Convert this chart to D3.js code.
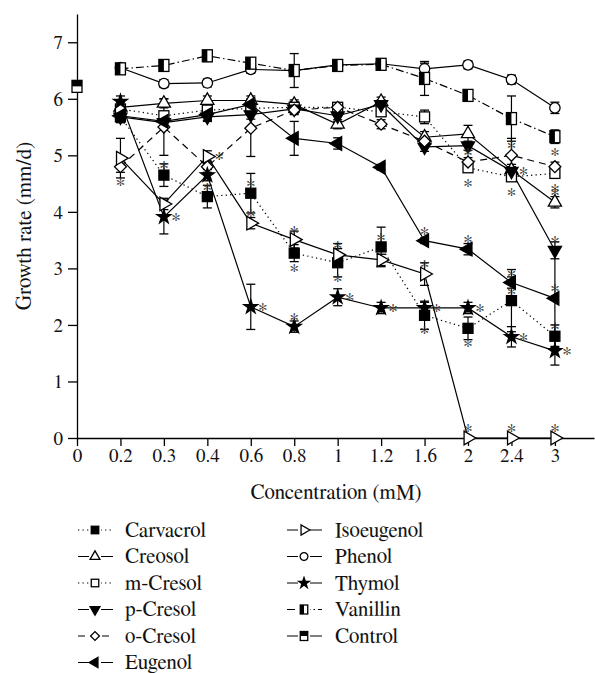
<!DOCTYPE html>
<html><head><meta charset="utf-8">
<script src="https://cdn.jsdelivr.net/npm/d3@7"></script>
<style>
body{margin:0;background:#fff}
svg{display:block}
</style>
</head><body><svg id="c" width="595" height="673" font-family="FreeSerif"></svg>
<script>
// ---------- data ----------
const categories = ["0","0.2","0.3","0.4","0.6","0.8","1","1.2","1.6","2","2.4","3"];
const yTicks = [0,1,2,3,4,5,6,7];
// values at 0.2 ... 3 mM (category index 1..11)
const carvacrol  = [5.68,4.65,4.27,4.33,3.27,3.10,3.38,2.17,1.94,2.43,1.80];
const creosol    = [5.85,5.92,5.97,5.97,5.90,5.55,5.95,5.32,5.38,4.74,4.17];
const mCresol    = [5.82,5.70,5.80,5.83,5.85,5.85,5.77,5.68,4.78,4.62,4.68];
const pCresol    = [5.68,5.58,5.68,5.72,5.82,5.70,5.90,5.15,5.17,4.72,3.32];
const oCresol    = [4.80,5.50,4.80,5.48,5.80,5.85,5.55,5.25,4.88,5.00,4.80];
const eugenol    = [5.70,5.60,5.72,5.90,5.30,5.21,4.79,3.49,3.34,2.75,2.47];
const isoeugenol = [4.95,4.14,4.98,3.80,3.51,3.24,3.15,2.90,0,0,0];
const phenol     = [6.55,6.27,6.28,6.52,6.50,6.60,6.62,6.53,6.60,6.34,5.84];
const thymol     = [5.95,3.91,4.65,2.32,1.97,2.49,2.30,2.30,2.30,1.79,1.54];
const vanillin   = [6.53,6.59,6.76,6.63,6.50,6.59,6.61,6.36,6.06,5.65,5.33];
const control    = [6.22];   // at 0 mM
// standard errors
const carvacrolErr  = [0.10,0.20,0.20,0.35,0.15,0.25,0.35,0.25,0.20,0.55,0.20];
const creosolErr    = [0.08,0.08,0.08,0.08,0.08,0.08,0.08,0.10,0.15,0.10,0.10];
const mCresolErr    = [0.06,0.06,0.06,0.06,0.10,0.06,0.06,0.12,0.06,0.06,0.06];
const pCresolErr    = [0.10,0.10,0.08,0.08,0.08,0.10,0.08,0.08,0.08,0.08,0.15];
const oCresolErr    = [0.10,0.50,0.10,0.50,0.08,0.08,0.08,0.08,0.08,0.30,0.08];
const eugenolErr    = [0.10,0.10,0.10,0.10,0.30,0.10,0.05,0.05,0.10,0.10,0.85];
const isoeugenolErr = [0.35,0.10,0.10,0.10,0.15,0.20,0.10,0.20,0,0,0];
const phenolErr     = [0.07,0.07,0.07,0.07,0.07,0.07,0.07,0.10,0.07,0.08,0.10];
const thymolErr     = [0.10,0.30,0.10,0.40,0.10,0.15,0.10,0.10,0.10,0.18,0.25];
const vanillinErr   = [0.05,0.10,0.10,0.05,0.30,0.05,0.05,0.30,0.05,0.40,0.12];
const controlErr    = [0.08];
// significance marks (a = above, b = below, r = right)
const carvacrolSig  = ["","a","a","a","b","b","a","b","b","a","a"];
const creosolSig    = ["","","","","","","","","","","a"];
const mCresolSig    = ["","","","","","","","","b","b","b"];
const pCresolSig    = ["","","","","","","","","","r","a"];
const oCresolSig    = ["b","","","","","","","","a","a",""];
const eugenolSig    = ["","","","","","","","a","a","a","a"];
const isoeugenolSig = ["","","r","a","a","a","","a","a","a","a"];
const phenolSig     = ["","","","","","","","","","",""];
const thymolSig     = ["","r","","r","a","r","r","r","r","r","r"];
const vanillinSig   = ["","","","","","","","","","","b"];
const controlSig    = [""];

const seriesNames = ["Carvacrol","Creosol","m-Cresol","p-Cresol","o-Cresol","Eugenol","Isoeugenol","Phenol","Thymol","Vanillin","Control"];

// ---------- styling ----------
const style = {
  "Carvacrol": {shape:"square", fill:"#000", dash:"1.3,3.2"},
  "Creosol":   {shape:"triUp", fill:"#fff", dash:null},
  "m-Cresol":  {shape:"square", fill:"#fff", dash:"1.3,3.2"},
  "p-Cresol":  {shape:"triDown", fill:"#000", dash:null},
  "o-Cresol":  {shape:"diamond", fill:"#fff", dash:"7,5"},
  "Eugenol":   {shape:"triLeft", fill:"#000", dash:null},
  "Isoeugenol":{shape:"triRight", fill:"#fff", dash:null},
  "Phenol":    {shape:"circle", fill:"#fff", dash:null},
  "Thymol":    {shape:"star", fill:"#000", dash:null},
  "Vanillin":  {shape:"halfL", fill:"#fff", dash:"8,3,1.5,3"},
  "Control":   {shape:"halfT", fill:"#fff", dash:null}
};
const seriesData = {
  "Carvacrol":[carvacrol,carvacrolErr,carvacrolSig,1],
  "Creosol":[creosol,creosolErr,creosolSig,1],
  "m-Cresol":[mCresol,mCresolErr,mCresolSig,1],
  "p-Cresol":[pCresol,pCresolErr,pCresolSig,1],
  "o-Cresol":[oCresol,oCresolErr,oCresolSig,1],
  "Eugenol":[eugenol,eugenolErr,eugenolSig,1],
  "Isoeugenol":[isoeugenol,isoeugenolErr,isoeugenolSig,1],
  "Phenol":[phenol,phenolErr,phenolSig,1],
  "Thymol":[thymol,thymolErr,thymolSig,1],
  "Vanillin":[vanillin,vanillinErr,vanillinSig,1],
  "Control":[control,controlErr,controlSig,0]
};

const FONT = "FreeSerif";
const svg = d3.select("#c");
const x = d3.scaleLinear().domain([0, 11.9]).range([77, 594]);
const y = d3.scaleLinear().domain([0, 7.5]).range([438, 14]);
function setFont(sel, size){ return sel.attr("font-family",FONT).style("font-family",FONT).attr("font-size",size).style("font-size",size+"px"); }

// ---------- axes ----------
const gy = svg.append("g").attr("transform","translate(77,0)");
gy.call(d3.axisLeft(y).tickValues(d3.range(0.5,8,1)).tickSize(5).tickSizeOuter(0).tickFormat(""));
gy.call(d3.axisLeft(y).tickValues(yTicks).tickSize(9).tickSizeOuter(0).tickFormat(d3.format("d")));
const gx = svg.append("g").attr("transform","translate(0,438)");
gx.call(d3.axisBottom(x).tickValues(d3.range(0.5,12,1)).tickSize(4).tickSizeOuter(0).tickFormat(""));
gx.call(d3.axisBottom(x).tickValues(d3.range(0,12)).tickSize(8).tickSizeOuter(0).tickFormat(i=>categories[i]));
gy.attr("font-family",FONT); gx.attr("font-family",FONT);
svg.selectAll(".domain,.tick line").attr("stroke","#000").attr("stroke-width",1.3);
setFont(svg.selectAll(".tick text"), 19).attr("fill","#111");
gy.selectAll(".tick text").attr("x",-14).attr("dy","0.34em");
gx.selectAll(".tick text").attr("y",11);

setFont(svg.append("text"),21).attr("transform","translate(31,226) rotate(-90)").attr("text-anchor","middle")
  .attr("fill","#111").text("Growth rate (mm/d)");
setFont(svg.append("text"),21).attr("x",336).attr("y",499).attr("text-anchor","middle")
  .attr("fill","#111").text("Concentration (mM)");

// ---------- markers ----------
function marker(g, shape, fill, s) {
  const sym = (t, size, rot) => g.append("path")
      .attr("d", d3.symbol().type(t).size(size*s*s)())
      .attr("transform", rot ? `rotate(${rot})` : null)
      .attr("fill", fill).attr("stroke","#000").attr("stroke-width",1.3);
  const w = 10*s;
  switch(shape){
    case "square": g.append("rect").attr("x",-w/2).attr("y",-w/2).attr("width",w).attr("height",w)
        .attr("fill",fill).attr("stroke","#000").attr("stroke-width",1.3); break;
    case "triUp": sym(d3.symbolTriangle,75,0); break;
    case "triDown": sym(d3.symbolTriangle,75,180); break;
    case "triLeft": sym(d3.symbolTriangle,80,-90); break;
    case "triRight": sym(d3.symbolTriangle,80,90); break;
    case "diamond": sym(d3.symbolSquare,70,45); break;
    case "circle": sym(d3.symbolCircle,85,0); break;
    case "star": sym(d3.symbolStar,60,0); break;
    case "halfL":
    case "halfT": {
      g.append("rect").attr("x",-w/2).attr("y",-w*0.6).attr("width",w).attr("height",w*1.2)
        .attr("fill","#fff").attr("stroke","#000").attr("stroke-width",1.3);
      if (shape==="halfL") g.append("rect").attr("x",-w/2).attr("y",-w*0.6).attr("width",w/2).attr("height",w*1.2).attr("fill","#000");
      else g.append("rect").attr("x",-w/2).attr("y",-w*0.6).attr("width",w).attr("height",w*0.6).attr("fill","#000");
      break;
    }
  }
}

const line = d3.line().x(d=>x(d.i)).y(d=>y(d.v));
const plot = svg.append("g");
const linesG = plot.append("g"), errG = plot.append("g"), markG = plot.append("g");
const sigG = plot.append("g").style("opacity",0.995);

seriesNames.forEach(name=>{
  const [vals, errs, sigs, start] = seriesData[name];
  const st = style[name];
  const pts = vals.map((v,k)=>({i:k+start, v, e:errs[k], s:sigs[k]}));
  linesG.append("path").datum(pts).attr("d",line).attr("fill","none").attr("stroke","#000")
    .attr("stroke-width",1.2).attr("stroke-dasharray",st.dash);
  pts.forEach(p=>{
    if (p.e>0) {
      const cx=x(p.i), y1=y(p.v+p.e), y2=y(p.v-p.e);
      errG.append("line").attr("x1",cx).attr("x2",cx).attr("y1",y1).attr("y2",y2).attr("stroke","#000").attr("stroke-width",1.2);
      [y1,y2].forEach(yy=>errG.append("line").attr("x1",cx-4.5).attr("x2",cx+4.5).attr("y1",yy).attr("y2",yy).attr("stroke","#000").attr("stroke-width",1.3));
    }
    const g = markG.append("g").attr("transform",`translate(${x(p.i)},${y(p.v)})`);
    marker(g, st.shape, st.fill, 1);
    if (p.s) {
      let ax=x(p.i), ay=y(p.v);
      if (p.s==="a") ay -= 11; else if (p.s==="b") ay += 14; else { ax += 12; ay -= 1; }
      setFont(sigG.append("text"),20).attr("x",ax).attr("y",ay+10).attr("text-anchor","middle")
        .attr("fill","#333").text("*");
    }
  });
});

// ---------- legend ----------
const legendCols = [seriesNames.slice(0,6), seriesNames.slice(6)];
const colX = [{l0:78,l1:113,m:95,t:125},{l0:287,l1:322,m:304,t:335}];
legendCols.forEach((col,ci)=>{
  col.forEach((name,ri)=>{
    const st = style[name];
    const cy = 530 + ri*26.5;
    const c = colX[ci];
    const g = svg.append("g");
    g.append("line").attr("x1",c.l0).attr("x2",c.l1).attr("y1",cy).attr("y2",cy)
      .attr("stroke","#000").attr("stroke-width",1.2).attr("stroke-dasharray",st.dash);
    const mg = g.append("g").attr("transform",`translate(${c.m},${cy})`);
    mg.append("rect").attr("x",-6).attr("y",-6).attr("width",12).attr("height",12).attr("fill","#fff");
    marker(mg, st.shape, st.fill, 0.75);
    setFont(g.append("text"),21).attr("x",c.t).attr("y",cy).attr("dy","0.33em").attr("fill","#111").text(name);
  });
});
</script></body></html>
